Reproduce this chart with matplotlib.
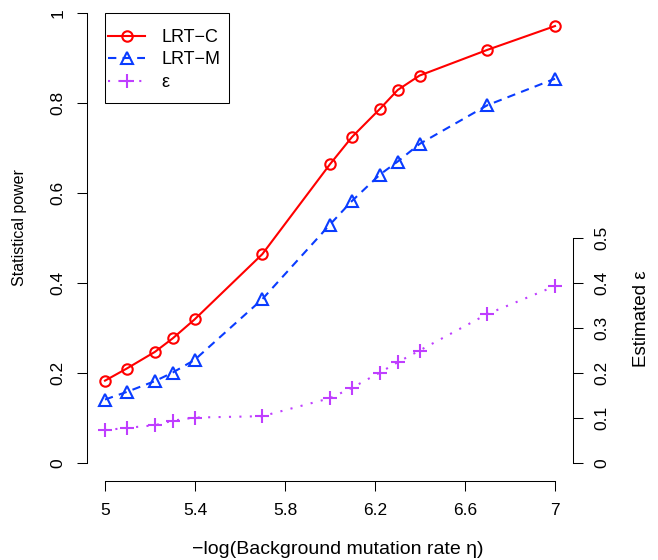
import matplotlib
matplotlib.use("Agg")
import matplotlib.pyplot as plt
from matplotlib.patches import Rectangle

plt.rcParams['font.family'] = ['Liberation Sans', 'DejaVu Sans']

# -log10(background mutation rate)
x_vals = [5.0, 5.097, 5.222, 5.301, 5.398, 5.699, 6.0, 6.097, 6.222, 6.301, 6.398, 6.699, 7.0]
lrt_c = [0.183, 0.210, 0.247, 0.277, 0.319, 0.464, 0.664, 0.724, 0.787, 0.829, 0.861, 0.918, 0.971]
lrt_m = [0.141, 0.158, 0.182, 0.201, 0.229, 0.364, 0.530, 0.582, 0.641, 0.670, 0.709, 0.795, 0.854]
eps_est = [0.073, 0.078, 0.084, 0.094, 0.101, 0.104, 0.144, 0.167, 0.201, 0.224, 0.250, 0.331, 0.393]

x_ticks = [5, 5.4, 5.8, 6.2, 6.6, 7]
x_ticklabels = ['5', '5.4', '5.8', '6.2', '6.6', '7']
y_ticks = [0, 0.2, 0.4, 0.6, 0.8, 1.0]
y_ticklabels = ['0', '0.2', '0.4', '0.6', '0.8', '1']
eps_ticks = [0, 0.1, 0.2, 0.3, 0.4, 0.5]
eps_ticklabels = ['0', '0.1', '0.2', '0.3', '0.4', '0.5']

RED = '#FF0000'
BLUE = '#0A3CFF'
PURPLE = '#BF3EFF'

W, H = 658, 560
fig = plt.figure(figsize=(W / 100, H / 100), dpi=100)
ax = fig.add_axes([87 / W, 1 - 481 / H, (573 - 87) / W, 481 / H])
ax.set_xlim(4.92, 7.08)
ax.set_ylim(-0.04, 463 / 450)

ax.plot(x_vals, lrt_c, color=RED, lw=1.5, marker='o', ms=7.5, mfc='none',
        mec=RED, mew=1.5, label='LRT\u2212C')
ax.plot(x_vals, lrt_m, color=BLUE, lw=1.5, dashes=(4, 3), marker='^', ms=8,
        mfc='none', mec=BLUE, mew=1.5, label='LRT\u2212M')
ax.plot(x_vals, eps_est, color=PURPLE, lw=1.5, dashes=(1, 4), marker='+', ms=10,
        mec=PURPLE, mew=1.5, label='\u03b5')

for s in ['top', 'right']:
    ax.spines[s].set_visible(False)
ax.spines['left'].set_bounds(0, 1)
ax.spines['bottom'].set_bounds(5, 7)
for s in ['left', 'bottom']:
    ax.spines[s].set_linewidth(0.75)

ax.set_xticks(x_ticks)
ax.set_xticklabels(x_ticklabels)
ax.set_yticks(y_ticks)
ax.set_yticklabels(y_ticklabels, rotation=90, va='center', ha='right')
ax.tick_params(axis='both', direction='out', length=7.2, width=0.75, pad=8.5,
               labelsize=12.5)

ax2 = ax.twinx()
ax2.set_ylim(ax.get_ylim())
for s in ['top', 'left', 'bottom']:
    ax2.spines[s].set_visible(False)
ax2.spines['right'].set_bounds(0, 0.5)
ax2.spines['right'].set_linewidth(0.75)
ax2.set_yticks(eps_ticks)
ax2.set_yticklabels(eps_ticklabels, rotation=90, va='center', ha='left')
ax2.tick_params(axis='y', direction='out', length=7.2, width=0.75, pad=8.5,
                labelsize=12.5)

# legend box (frame drawn separately for R-like padding)
fig.patches.append(Rectangle((105 / W, 1 - 103 / H), 124 / W, 90 / H,
                             transform=fig.transFigure, fill=False,
                             edgecolor='black', lw=0.75, zorder=5))
leg = ax2.legend(*ax.get_legend_handles_labels(), loc='upper left',
                 bbox_to_anchor=(108 / W, 1 - 29 / H),
                 bbox_transform=fig.transFigure, borderaxespad=0, borderpad=0,
                 fontsize=13, frameon=False, numpoints=1, handlelength=2.05,
                 handletextpad=0.9, labelspacing=0.3)

fig.text(20 / W, 1 - 228 / H, 'Statistical power', rotation=90, ha='center',
         va='center', fontsize=11.5)
fig.text(641 / W, 1 - 319 / H, 'Estimated \u03b5', rotation=90, ha='center',
         va='center', fontsize=13.5)
fig.text(338 / W, 1 - 549 / H, '\u2212log(Background mutation rate \u03b7)',
         ha='center', va='center', fontsize=14)

fig.savefig('out.png', dpi=100)
